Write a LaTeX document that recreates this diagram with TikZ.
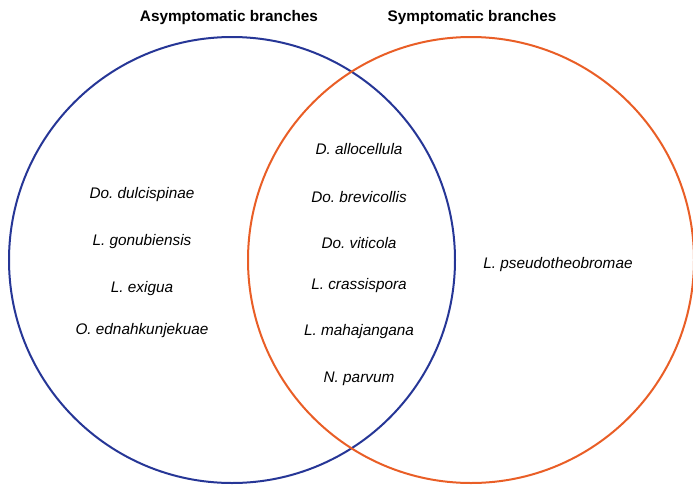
\documentclass[tikz,border=0pt]{standalone}
\usepackage{fontspec}
\setmainfont{Liberation Sans}
\frenchspacing

\definecolor{asymblue}{RGB}{38,54,150}
\definecolor{symorange}{RGB}{233,94,38}

\tikzset{
    species/.style={font=\fontsize{11.5}{13}\selectfont\itshape, inner sep=1pt},
    venntitle/.style={font=\fontsize{11.5}{13}\selectfont\bfseries, inner sep=1pt}
}

\begin{document}
\begin{tikzpicture}[x=0.75pt,y=-0.75pt]
        % Рамка рисунка
        \useasboundingbox (0,0) rectangle (693,486);

        % Круги
        \draw[line width=1.5pt, asymblue] (232,260) circle (167.25pt);
        \draw[line width=1.5pt, symorange] (471,260) circle (167.25pt);

        % Заголовки
        \node[venntitle] (asymtitle) at (229,18) {Asymptomatic branches};
        \node[venntitle] (symtitle) at (472,18) {Symptomatic branches};

        % Только бессимптомные
        \foreach \y/\txt [count=\i] in {
            195/Do. dulcispinae, 242/L. gonubiensis,
            289/L. exigua, 331/O. ednahkunjekuae}
        {
            \node[species] (asym\i) at (142,\y) {\txt};
        }

        % Общие виды
        \foreach \y/\txt [count=\i] in {
            149/D. allocellula, 197/Do. brevicollis, 243/Do. viticola,
            286/L. crassispora, 332/L. mahajangana, 379/N. parvum}
        {
            \node[species] (both\i) at (359,\y) {\txt};
        }

        % Только симптомные
        \node[species] (sym1) at (558,265) {L. pseudotheobromae};
    \end{tikzpicture}
\end{document}
